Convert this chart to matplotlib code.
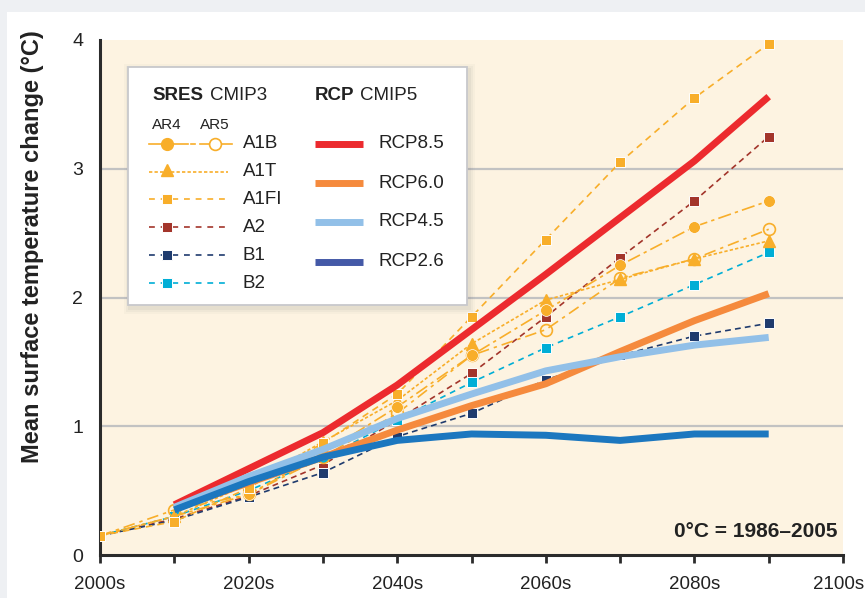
import matplotlib
matplotlib.use("Agg")
import matplotlib.pyplot as plt
import matplotlib.transforms as mtransforms
from matplotlib.patches import Rectangle
from matplotlib.lines import Line2D

plt.rcParams['font.family'] = ['Liberation Sans', 'DejaVu Sans']

# decades (2000s ... 2090s)
decades = [2000, 2010, 2020, 2030, 2040, 2050, 2060, 2070, 2080, 2090]
rcp_decades = decades[1:]

# SRES CMIP3 (AR4 / AR5)
a1b_ar4 = [0.15, 0.30, 0.47, 0.79, 1.15, 1.55, 1.90, 2.25, 2.55, 2.75]
a1b_ar5 = [0.15, 0.35, 0.47, 0.76, 1.10, 1.55, 1.75, 2.15, 2.30, 2.53]
a1t = [0.15, 0.30, 0.55, 0.88, 1.20, 1.64, 1.98, 2.14, 2.30, 2.44]
a1fi = [0.15, 0.26, 0.52, 0.87, 1.25, 1.85, 2.45, 3.05, 3.55, 3.97]
a2 = [0.15, 0.28, 0.46, 0.70, 1.05, 1.41, 1.85, 2.31, 2.75, 3.25]
b1 = [0.15, 0.27, 0.45, 0.64, 0.92, 1.10, 1.36, 1.55, 1.70, 1.80]
b2 = [0.15, 0.30, 0.50, 0.75, 1.05, 1.34, 1.61, 1.85, 2.10, 2.35]

# RCP CMIP5
rcp85 = [0.39, 0.67, 0.95, 1.32, 1.75, 2.18, 2.62, 3.06, 3.56]
rcp60 = [0.36, 0.56, 0.76, 0.97, 1.16, 1.33, 1.58, 1.82, 2.03]
rcp45 = [0.37, 0.61, 0.82, 1.06, 1.25, 1.43, 1.54, 1.63, 1.69]
rcp26 = [0.35, 0.57, 0.76, 0.89, 0.94, 0.93, 0.89, 0.94, 0.94]

xticks = [2000, 2020, 2040, 2060, 2080, 2100]
xticklabels = ["2000s", "2020s", "2040s", "2060s", "2080s", "2100s"]

orange = "#f8ae2a"
c_a2 = "#a3352b"
c_b1 = "#1f3b6e"
c_b2 = "#00aed6"
c85 = "#ec2a2e"
c60 = "#f58a3d"
c45 = "#92c0e8"
c26 = "#1c77bf"
c26_leg = "#4459a7"
bg = "#fdf3e1"

W, H = 865, 598
fig = plt.figure(figsize=(W / 100, H / 100), dpi=100, facecolor="#eef0f3")
fig.patches.append(Rectangle((7 / W, 0), 1, 1 - 12 / H, transform=fig.transFigure,
                             facecolor="white", edgecolor="none", zorder=-10))

ax = fig.add_axes([100 / W, 1 - 555 / H, 743 / W, 515 / H])
ax.set_facecolor(bg)
ax.set_xlim(2000, 2100)
ax.set_ylim(0, 4)

for y in [1, 2, 3]:
    ax.axhline(y, color="#c2c2c2", lw=1.6, zorder=1)

sq = dict(marker="s", ms=6.5, mec="white", mew=0.7)
lw = 1.2
ax.plot(decades, a2, color=c_a2, lw=lw, dashes=(3.5, 2.5), zorder=3, **sq)
ax.plot(decades, b1, color=c_b1, lw=lw, dashes=(3.5, 2.5), zorder=3, **sq)
ax.plot(decades, b2, color=c_b2, lw=lw, dashes=(3.5, 3), zorder=3, **sq)
ax.plot(decades, a1t, color=orange, lw=lw, dashes=(2, 1.3), marker="^", ms=8,
        mec=orange, markevery=slice(1, None), zorder=3)
ax.plot(decades, a1b_ar5, color=orange, lw=lw, dashes=(7, 3, 2, 3), marker="o", ms=8.5,
        mfc="none", mec=orange, mew=1.2, markevery=slice(1, None), zorder=3)
ax.plot(decades, a1b_ar4, color=orange, lw=lw, dashes=(8, 2.5, 2, 2.5), marker="o", ms=8.5,
        mec="white", mew=0.5, markevery=slice(2, None), zorder=3)
ax.plot(decades, a1fi, color=orange, lw=lw, dashes=(4, 3), zorder=3, **sq)

rlw = 5
ax.plot(rcp_decades, rcp85, color=c85, lw=rlw, solid_capstyle="butt", zorder=4)
ax.plot(rcp_decades, rcp60, color=c60, lw=rlw, solid_capstyle="butt", zorder=4)
ax.plot(rcp_decades, rcp45, color=c45, lw=rlw, solid_capstyle="butt", zorder=4)
ax.plot(rcp_decades, rcp26, color=c26, lw=rlw, solid_capstyle="butt", zorder=4)

ax.set_xticks(xticks)
ax.set_xticklabels(xticklabels)
ax.set_xticks(decades[1::2], minor=True)
ax.set_yticks([0, 1, 2, 3, 4])
ax.tick_params(axis="x", which="both", direction="out", length=6, width=2,
               color="#2b2b2b", labelsize=13.5, pad=9, labelcolor="#222222")
ax.tick_params(axis="y", length=0, pad=12, labelsize=14, labelcolor="#222222")
# keep the last label inside the picture
last = ax.get_xticklabels()[-1]
last.set_transform(last.get_transform() + mtransforms.ScaledTranslation(-4 / 100, 0, fig.dpi_scale_trans))
for s in ["top", "right"]:
    ax.spines[s].set_visible(False)
for s in ["left", "bottom"]:
    ax.spines[s].set_linewidth(2.2)
    ax.spines[s].set_color("#2b2b2b")

fig.text(33 / W, 1 - 247 / H, "Mean surface temperature change (°C)", rotation=90,
         ha="center", va="center", fontsize=17, fontweight="bold", color="#222222")
ax.text(0.992, 0.035, "0°C = 1986–2005", transform=ax.transAxes, ha="right",
        va="baseline", fontsize=15, fontweight="bold", color="#222222")

# legend panel drawn in pixel coordinates
ov = fig.add_axes([0, 0, 1, 1], zorder=10)
ov.set_xlim(0, W)
ov.set_ylim(H, 0)
ov.axis("off")
ov.patch.set_alpha(0)
for k, a in [(6, 0.04), (4, 0.06), (2, 0.08)]:
    ov.add_patch(Rectangle((128 - k + 2, 67 - k + 3), 339 + 2 * k, 238 + 2 * k,
                           facecolor="#7a7a7a", edgecolor="none", alpha=a))
ov.add_patch(Rectangle((128, 67), 339, 238, facecolor="white", edgecolor="#c8c8cc", lw=1.3))

tc = "#222222"
fs = 13.5
ov.text(152, 95, "SRES", fontsize=fs, fontweight="bold", va="center", color=tc)
ov.text(210, 95, "CMIP3", fontsize=fs, va="center", color=tc)
ov.text(315, 95, "RCP", fontsize=fs, fontweight="bold", va="center", color=tc)
ov.text(360, 95, "CMIP5", fontsize=fs, va="center", color=tc)
ov.text(167, 125, "AR4", fontsize=11, va="center", ha="center", color=tc)
ov.text(215, 125, "AR5", fontsize=11, va="center", ha="center", color=tc)

# A1B handle
ov.add_line(Line2D([149, 188], [144, 144], color=orange, lw=lw))
ov.add_line(Line2D([191, 195], [144, 144], color=orange, lw=lw))
ov.add_line(Line2D([200, 232], [144, 144], color=orange, lw=lw))
ov.add_line(Line2D([167], [144], marker="o", ms=8.5, color=orange, mec=orange))
ov.add_line(Line2D([215], [144], marker="o", ms=8.5, mfc="white", mec=orange, mew=1.2))
ov.add_line(Line2D([149, 228], [172, 172], color=orange, lw=lw, dashes=(2, 1.3)))
ov.add_line(Line2D([167], [170], marker="^", ms=8, color=orange))
for yy, c in [(199, orange), (227, c_a2), (255, c_b1), (283, c_b2)]:
    ov.add_line(Line2D([149, 226], [yy, yy], color=c, lw=lw, dashes=(3.5, 3.5)))
    ov.add_line(Line2D([167], [yy], marker="s", ms=6.5, color=c, mec="white", mew=0.7))
for yy, lab in [(144, "A1B"), (172, "A1T"), (199, "A1FI"), (227, "A2"), (255, "B1"), (283, "B2")]:
    ov.text(243, yy, lab, fontsize=fs, va="center", color=tc)

for yy, c, lab in [(144, c85, "RCP8.5"), (183, c60, "RCP6.0"), (222, c45, "RCP4.5"),
                   (262, c26_leg, "RCP2.6")]:
    ov.add_line(Line2D([315, 363], [yy, yy], color=c, lw=5, solid_capstyle="butt"))
    ov.text(379, yy, lab, fontsize=fs, va="center", color=tc)

fig.savefig("out.png", dpi=100, facecolor=fig.get_facecolor())
